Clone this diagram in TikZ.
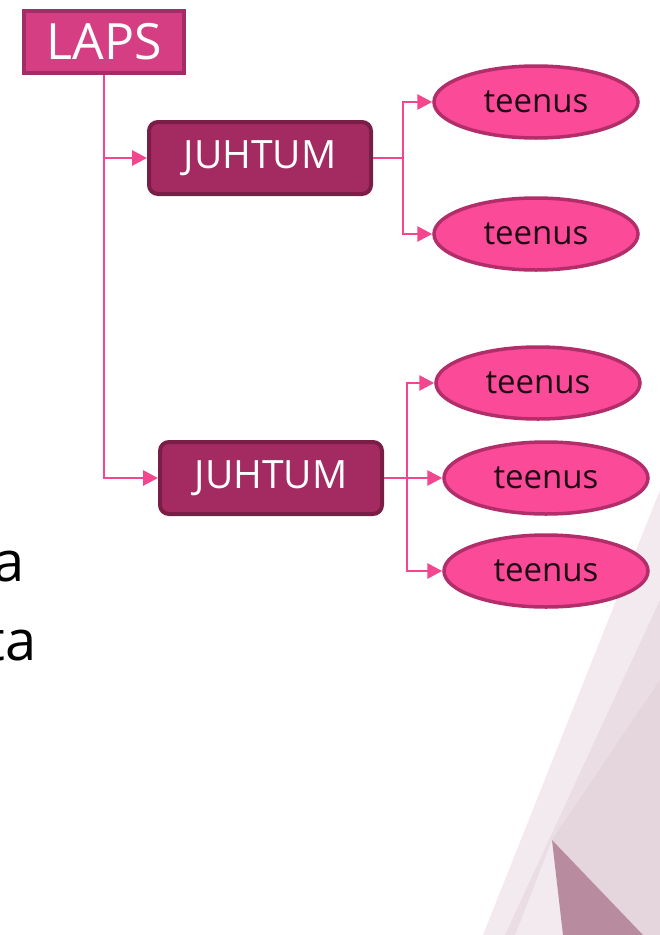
\documentclass[tikz,border=0pt]{standalone}
\usepackage{fontspec}
\setmainfont{Open Sans}
\usetikzlibrary{arrows.meta,shapes.geometric}
\definecolor{lapsfill}{HTML}{D63E84}
\definecolor{lapsdraw}{HTML}{A32D66}
\definecolor{jfill}{HTML}{A32B61}
\definecolor{jdraw}{HTML}{7A1E47}
\definecolor{tfill}{HTML}{FB4A97}
\definecolor{tdraw}{HTML}{B22E6A}
\definecolor{conncol}{HTML}{F4468E}
\definecolor{bgA}{HTML}{F2EAEE}
\definecolor{bgB}{HTML}{E5D5DC}
\definecolor{bgC}{HTML}{B98B9F}
\definecolor{bgD}{HTML}{EADDE3}
\definecolor{txtdark}{HTML}{1E0A14}
\tikzset{
  lapsbox/.style={draw=lapsdraw, fill=lapsfill, line width=4pt, minimum width=160pt, minimum height=62pt, inner sep=0pt, text=white, font=\fontsize{50}{54}\selectfont},
  jbox/.style={draw=jdraw, fill=jfill, line width=4pt, rounded corners=9pt, minimum width=222pt, minimum height=72pt, inner sep=0pt, text=white, font=\fontsize{39}{42}\selectfont},
  tell/.style={ellipse, draw=tdraw, fill=tfill, line width=3.5pt, minimum width=204pt, minimum height=72pt, inner sep=0pt, text=txtdark, font=\fontsize{33}{36}\selectfont},
  conn/.style={draw=conncol, line width=2.8pt},
  arr/.style={conn, -{Triangle[length=15pt,width=15pt]}},
  bgtext/.style={inner sep=0pt, text=black, font=\fontsize{56}{60}\selectfont}
}
\begin{document}
\begin{tikzpicture}[x=1pt,y=-1pt]
\useasboundingbox (0,0) rectangle (660,935);
\fill[white] (0,0) rectangle (660,935);
% background facets
\fill[bgA] (660,490) -- (483,935) -- (660,935) -- cycle;
\fill[bgD] (660,600) -- (660,693) -- (552,840) -- (515,935) -- (505,935) -- cycle;
\fill[bgB] (660,680) -- (552,840) -- (643,935) -- (660,935) -- cycle;
\fill[bgC] (552,840) -- (563,935) -- (643,935) -- cycle;
% partial slide text
\node[bgtext, anchor=base east] (ta1) at (25,581) {a};
\node[bgtext, anchor=base east] (ta2) at (37,660) {ta};
% nodes
\node[lapsbox] (laps) at (104,42) {LAPS};
\node[jbox] (j1) at (260,158) {JUHTUM};
\node[jbox] (j2) at (271,478) {JUHTUM};
\node[tell] (t1) at (536,102) {teenus};
\node[tell] (t2) at (536,234) {teenus};
\node[tell] (t3) at (538,383) {teenus};
\node[tell] (t4) at (546,478) {teenus};
\node[tell] (t5) at (546,571) {teenus};
% connectors
\draw[arr] (laps.south) |- (j2.west);
\draw[arr] (laps.south |- j1.west) -- (j1.west);
\path (j1.east) ++(30,0) coordinate (b1);
\draw[conn] (j1.east) -- (b1);
\draw[arr] (b1) |- (t1.west);
\draw[arr] (b1) |- (t2.west);
\path (j2.east) ++(23,0) coordinate (b2);
\draw[conn] (j2.east) -- (b2);
\draw[arr] (b2) |- (t3.west);
\draw[arr] (b2) -- (t4.west);
\draw[arr] (b2) |- (t5.west);
\end{tikzpicture}
\end{document}
